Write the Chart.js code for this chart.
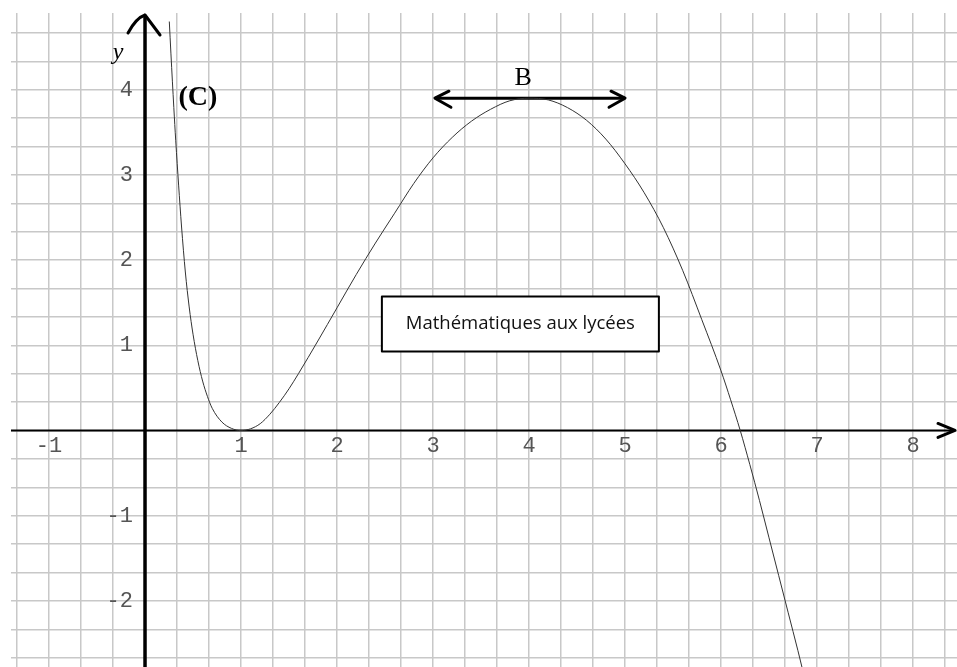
<!DOCTYPE html>
<html>
<head>
<meta charset="utf-8">
<title>Courbe (C)</title>
<script src="https://cdn.jsdelivr.net/npm/chart.js@4"></script>
<style>
html, body { margin: 0; padding: 0; background: #fff; }
#wrap { width: 957px; height: 667px; position: relative; }
</style>
</head>
<body>
<div id="wrap"><canvas id="graphe"></canvas></div>
<script>
// points (C)
const courbeX = [0.253, 0.27, 0.285, 0.30, 0.32, 0.35, 0.38, 0.42, 0.46, 0.50, 0.55, 0.60, 0.65, 0.70, 0.80, 0.90, 1.0,
                 1.1, 1.2, 1.3, 1.4, 1.5, 1.6, 1.8, 2.0, 2.2, 2.4, 2.6, 2.8, 3.0, 3.2, 3.4, 3.6, 3.8, 4.0,
                 4.2, 4.4, 4.6, 4.8, 5.0, 5.2, 5.4, 5.6, 5.8, 6.0, 6.1, 6.2, 6.3, 6.4, 6.5, 6.6, 6.7, 6.8, 6.85];
const courbeY = [4.80, 4.42, 4.10, 3.79, 3.40, 2.88, 2.40, 1.86, 1.45, 1.13, 0.82, 0.58, 0.40, 0.26, 0.10, 0.025, 0.0,
                 0.02, 0.08, 0.19, 0.33, 0.49, 0.67, 1.05, 1.44, 1.83, 2.20, 2.55, 2.90, 3.20, 3.44, 3.63, 3.77, 3.87, 3.90,
                 3.88, 3.79, 3.64, 3.42, 3.13, 2.79, 2.38, 1.88, 1.30, 0.70, 0.36, 0.0, -0.40, -0.82, -1.26, -1.70, -2.14, -2.58, -2.81];

// tangente horizontale en B
const tangenteX = [3.02, 5.0];
const tangenteY = [3.9, 3.9];

// graduations des axes
const gradX = [-1, 1, 2, 3, 4, 5, 6, 7, 8];
const gradY = [4, 3, 2, 1, -1, -2];

// fenetre du repere
const xMin = -1.396, xMax = 8.458;
const yMin = -2.776, yMax = 4.9;
const pas = 1 / 3; // quadrillage

// Etiquettes
const etiquetteC = { texte: '(C)', x: 0.55, y: 3.91 };
const etiquetteB = { texte: 'B', x: 3.94, y: 4.14 };
const etiquetteY = { texte: 'y', x: -0.28, y: 4.44 };
const cadre = { texte: 'Mathématiques aux lycées', x: 3.91, y: 1.25 };

function quadrillage(axis) {
    const t = [];
    for (let k = Math.ceil(axis.min / pas - 1e-9); k * pas <= axis.max + 1e-9; k++) {
        t.push({ value: k * pas });
    }
    axis.ticks = t;
}

function fleche(ctx, x1, y1, xa, ya, x2, y2) {
    ctx.beginPath();
    ctx.moveTo(x1, y1);
    ctx.lineTo(xa, ya);
    ctx.lineTo(x2, y2);
    ctx.stroke();
}

const decor = {
    id: 'decor',
    beforeDatasetsDraw(chart) {
        const ctx = chart.ctx;
        const sx = chart.scales.x, sy = chart.scales.y;
        const area = chart.chartArea;
        const x0 = sx.getPixelForValue(0);
        const y0 = sy.getPixelForValue(0);
        ctx.save();
        ctx.strokeStyle = '#000';
        // axe des abscisses
        ctx.lineWidth = 2;
        ctx.beginPath();
        ctx.moveTo(area.left, y0);
        ctx.lineTo(area.right - 3, y0);
        ctx.stroke();
        // axe des ordonnees
        ctx.lineWidth = 3.5;
        ctx.beginPath();
        ctx.moveTo(x0, area.top + 2);
        ctx.lineTo(x0, area.bottom);
        ctx.stroke();
        ctx.restore();
    },
    afterDatasetsDraw(chart) {
        const ctx = chart.ctx;
        const sx = chart.scales.x, sy = chart.scales.y;
        const area = chart.chartArea;
        const x0 = sx.getPixelForValue(0);
        const y0 = sy.getPixelForValue(0);
        ctx.save();
        ctx.strokeStyle = '#000';
        ctx.lineCap = 'round';
        ctx.lineJoin = 'round';
        ctx.lineWidth = 3;

        // fleches des axes
        ctx.beginPath();
        ctx.moveTo(x0 - 17, area.top + 20);
        ctx.quadraticCurveTo(x0 - 9, area.top + 5, x0, area.top + 2);
        ctx.lineTo(x0 + 15, area.top + 22);
        ctx.stroke();
        fleche(ctx, area.right - 19, y0 - 7, area.right - 2, y0, area.right - 19, y0 + 7);

        // fleches de la tangente
        const ty = sy.getPixelForValue(tangenteY[0]);
        const ta = sx.getPixelForValue(tangenteX[0]);
        const tb = sx.getPixelForValue(tangenteX[1]);
        fleche(ctx, ta + 14, ty - 7, ta, ty, ta + 16, ty + 9);
        fleche(ctx, tb - 14, ty - 7, tb, ty, tb - 16, ty + 9);

        // graduations
        ctx.fillStyle = '#555';
        ctx.font = '22px "Liberation Mono"';
        ctx.textAlign = 'center';
        ctx.textBaseline = 'middle';
        gradX.forEach(v => {
            ctx.fillText(String(v), sx.getPixelForValue(v), y0 + 16);
        });
        ctx.textAlign = 'right';
        gradY.forEach(v => {
            ctx.fillText(String(v), x0 - 12, sy.getPixelForValue(v));
        });

        // etiquettes
        ctx.fillStyle = '#000';
        ctx.textAlign = 'center';
        ctx.font = 'italic 24px "Liberation Serif"';
        ctx.fillText(etiquetteY.texte, sx.getPixelForValue(etiquetteY.x), sy.getPixelForValue(etiquetteY.y));
        ctx.font = 'bold 28px "Liberation Serif"';
        ctx.fillText(etiquetteC.texte, sx.getPixelForValue(etiquetteC.x), sy.getPixelForValue(etiquetteC.y));
        ctx.font = '26px "Liberation Serif"';
        ctx.fillText(etiquetteB.texte, sx.getPixelForValue(etiquetteB.x), sy.getPixelForValue(etiquetteB.y));

        // cadre
        const cx = sx.getPixelForValue(cadre.x), cy = sy.getPixelForValue(cadre.y);
        const w = 277, h = 55;
        ctx.fillStyle = '#fff';
        ctx.fillRect(cx - w / 2, cy - h / 2, w, h);
        ctx.lineWidth = 2;
        ctx.lineCap = 'butt';
        ctx.strokeRect(cx - w / 2, cy - h / 2, w, h);
        ctx.fillStyle = '#111';
        ctx.font = '18.5px "Open Sans"';
        ctx.fillText(cadre.texte, cx, cy);
        ctx.restore();
    }
};

new Chart(document.getElementById('graphe'), {
    type: 'line',
    data: {
        datasets: [{
            label: '(C)',
            data: courbeX.map((x, i) => ({ x: x, y: courbeY[i] })),
            borderColor: '#333',
            borderWidth: 1,
            pointRadius: 0,
            cubicInterpolationMode: 'monotone',
            fill: false
        }, {
            label: 'tangente',
            data: tangenteX.map((x, i) => ({ x: x, y: tangenteY[i] })),
            borderColor: '#000',
            borderWidth: 3,
            pointRadius: 0,
            fill: false
        }]
    },
    options: {
        responsive: true,
        maintainAspectRatio: false,
        animation: false,
        layout: { padding: { left: 11, top: 13, right: 0, bottom: 0 } },
        plugins: { legend: { display: false }, tooltip: { enabled: false } },
        scales: {
            x: {
                type: 'linear', min: xMin, max: xMax,
                afterBuildTicks: quadrillage,
                ticks: { display: false },
                grid: { color: '#c8c8c8', lineWidth: 1.5, drawTicks: false },
                border: { display: false }
            },
            y: {
                type: 'linear', min: yMin, max: yMax,
                afterBuildTicks: quadrillage,
                ticks: { display: false },
                grid: { color: '#c8c8c8', lineWidth: 1.5, drawTicks: false },
                border: { display: false }
            }
        }
    },
    plugins: [decor]
});
</script>
</body>
</html>
